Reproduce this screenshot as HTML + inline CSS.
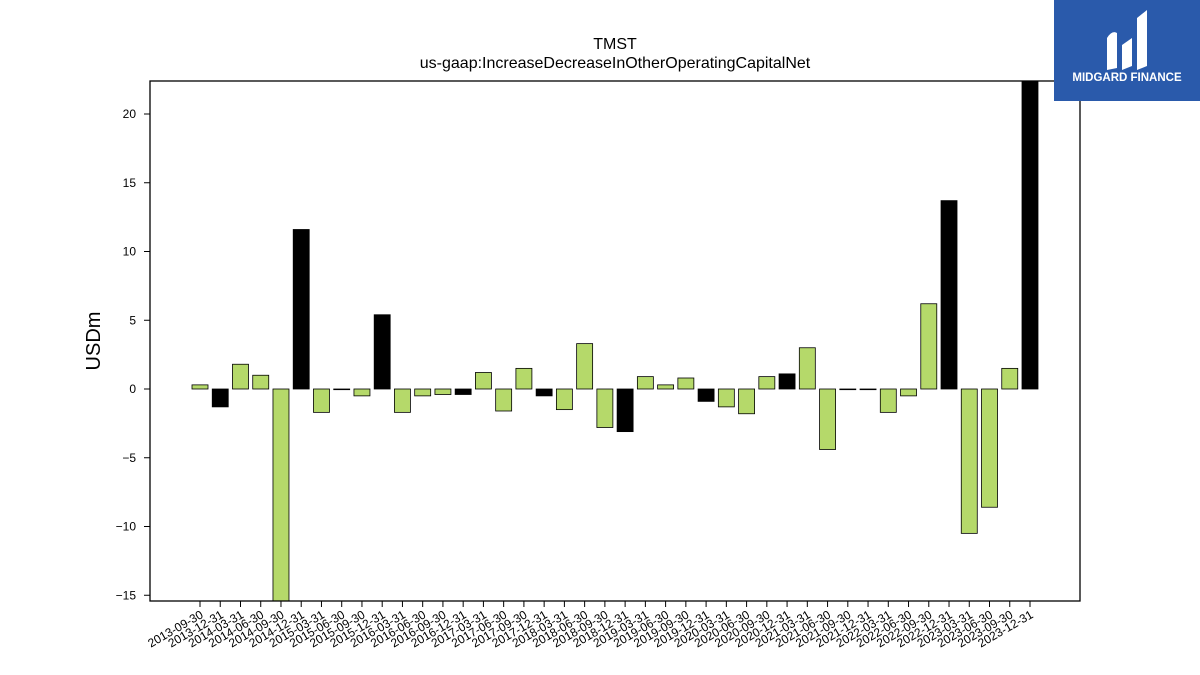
<!DOCTYPE html>
<html><head><meta charset="utf-8"><style>
body{margin:0;background:#fff;font-family:"Liberation Sans","DejaVu Sans",sans-serif}
#wrap{position:relative;width:1200px;height:675px;overflow:hidden}
</style></head><body>
<div id="wrap">
<svg id="chart" width="1200" height="675" xmlns="http://www.w3.org/2000/svg">
<text x="615" y="49" text-anchor="middle" font-size="16">TMST</text>
<text x="615" y="68" text-anchor="middle" font-size="16">us-gaap:IncreaseDecreaseInOtherOperatingCapitalNet</text>
<text x="100" y="341" text-anchor="middle" font-size="20" transform="rotate(-90 100 341)">USDm</text>
<g id="bars"></g><g id="yticks"></g><g id="xticks"></g>
<rect x="150" y="81" width="930" height="520" fill="none" stroke="#000" stroke-width="1.3"/>
<g>
<rect x="1054" y="0" width="146" height="101" fill="#2a5aab"/>
<path d="M1107 70 V38 Q1112 30 1117 33 V68 Z M1122 70 V45 L1132 38 V66 Z M1137 70 V18 L1147 10 V66 Z" fill="#fff"/>
<text x="1127" y="81" text-anchor="middle" font-size="11.5" font-weight="bold" fill="#fff">MIDGARD FINANCE</text>
</g>
</svg>
</div>
<script>
const categories=["2013-09-30","2013-12-31","2014-03-31","2014-06-30","2014-09-30","2014-12-31","2015-03-31","2015-06-30","2015-09-30","2015-12-31","2016-03-31","2016-06-30","2016-09-30","2016-12-31","2017-03-31","2017-06-30","2017-09-30","2017-12-31","2018-03-31","2018-06-30","2018-09-30","2018-12-31","2019-03-31","2019-06-30","2019-09-30","2019-12-31","2020-03-31","2020-06-30","2020-09-30","2020-12-31","2021-03-31","2021-06-30","2021-09-30","2021-12-31","2022-03-31","2022-06-30","2022-09-30","2022-12-31","2023-03-31","2023-06-30","2023-09-30","2023-12-31"];
const values=[0.3,-1.3,1.8,1.0,-15.5,11.6,-1.7,-0.05,-0.5,5.4,-1.7,-0.5,-0.4,-0.4,1.2,-1.6,1.5,-0.5,-1.5,3.3,-2.8,-3.1,0.9,0.3,0.8,-0.9,-1.3,-1.8,0.9,1.1,3.0,-4.4,-0.05,-0.05,-1.7,-0.5,6.2,13.7,-10.5,-8.6,1.5,22.5];
const yTicks=[-15,-10,-5,0,5,10,15,20];
const NS="http://www.w3.org/2000/svg";
const X0=150,X1=1080,Y0=81,Y1=601;
function y(v){return 389-v*13.75;}
function x(i){return 200+i*(830/(categories.length-1));}
const bw=16;
const bars=document.getElementById('bars'),yt=document.getElementById('yticks'),xt=document.getElementById('xticks');
values.forEach((v,i)=>{
  const r=document.createElementNS(NS,'rect');
  const top=Math.max(Y0,Math.min(y(v),y(0))), bot=Math.min(Y1,Math.max(y(v),y(0)));
  r.setAttribute('x',x(i)-bw/2);r.setAttribute('y',top);r.setAttribute('width',bw);r.setAttribute('height',Math.max(0.6,bot-top));
  r.setAttribute('fill',categories[i].endsWith('12-31')?'#000':'#b5d96a');
  r.setAttribute('stroke','#000');r.setAttribute('stroke-width','0.8');
  
  
  bars.appendChild(r);
  const t=document.createElementNS(NS,'line');
  t.setAttribute('x1',x(i));t.setAttribute('x2',x(i));t.setAttribute('y1',Y1);t.setAttribute('y2',Y1+6);t.setAttribute('stroke','#000');
  
  
  xt.appendChild(t);
  const l=document.createElementNS(NS,'text');
  l.setAttribute('x',x(i)+4);l.setAttribute('y',Y1+16);l.setAttribute('font-size','12');l.setAttribute('text-anchor','end');
  l.setAttribute('transform','rotate(-30 '+(x(i)+4)+' '+(Y1+16)+')');
  l.textContent=categories[i];
  
  
  xt.appendChild(l);
});
yTicks.forEach(v=>{
  const t=document.createElementNS(NS,'line');
  t.setAttribute('x1',X0-6);t.setAttribute('x2',X0);t.setAttribute('y1',y(v));t.setAttribute('y2',y(v));t.setAttribute('stroke','#000');
  
  
  yt.appendChild(t);
  const l=document.createElementNS(NS,'text');
  l.setAttribute('x',X0-14);l.setAttribute('y',y(v)+4);l.setAttribute('font-size','12');l.setAttribute('text-anchor','end');
  l.textContent=v<0?'\u2212'+Math.abs(v):String(v);
  
  
  yt.appendChild(l);
});
</script>
</body></html>
